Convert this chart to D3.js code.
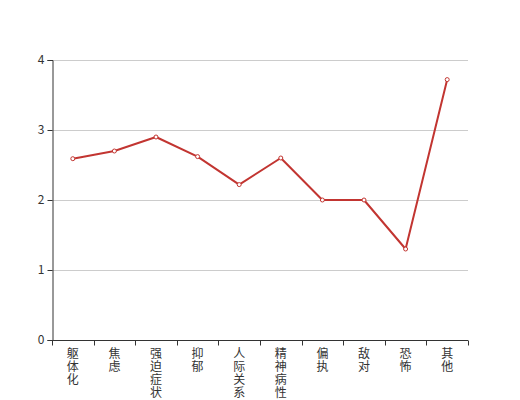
<!DOCTYPE html>
<html><head><meta charset="utf-8">
<script src="https://cdn.jsdelivr.net/npm/d3@7/dist/d3.min.js"></script>
<style>body{margin:0;background:#fff}svg{display:block}</style>
</head><body>
<svg id="c" width="520" height="400"></svg>
<script>
const categories = ["躯体化","焦虑","强迫症状","抑郁","人际关系敏感","精神病性","偏执","敌对","恐怖","其他"];
const values = [2.59, 2.70, 2.90, 2.62, 2.22, 2.60, 2.00, 2.00, 1.30, 3.72];
const yTicks = [0, 1, 2, 3, 4];

(function() {
const svg = d3.select("#c");
const mLeft = 52, mRight = 468, mTop = 60, mBottom = 340;
const font = "'Noto Sans CJK SC', sans-serif";

const x = d3.scaleBand().domain(categories).range([mLeft, mRight]);
const y = d3.scaleLinear().domain([0, 4]).range([mBottom, mTop]);

// grid
svg.append("g").selectAll("line").data(yTicks.filter(d => d > 0)).join("line")
  .attr("x1", mLeft).attr("x2", mRight)
  .attr("y1", d => y(d) + 0.5).attr("y2", d => y(d) + 0.5)
  .attr("stroke", "#ccc").attr("stroke-width", 1);

// y axis
const ya = svg.append("g").attr("transform", `translate(${mLeft + 0.5},0)`)
  .call(d3.axisLeft(y).tickValues(yTicks).tickSize(5).tickPadding(3).tickFormat(d3.format("d")));
ya.select(".domain").attr("stroke", "#333");
ya.selectAll(".tick line").attr("stroke", "#333");
ya.selectAll("text").attr("font-family", font).attr("font-size", 12).attr("fill", "#333");

// x axis
const xa = svg.append("g").attr("transform", `translate(0,${mBottom + 0.5})`);
xa.append("line").attr("x1", mLeft).attr("x2", mRight).attr("stroke", "#333");
const bounds = categories.map(c => x(c)).concat([mRight]);
xa.selectAll("line.tk").data(bounds).join("line").attr("class", "tk")
  .attr("x1", d => Math.round(d) + 0.5).attr("x2", d => Math.round(d) + 0.5)
  .attr("y1", 0).attr("y2", 5).attr("stroke", "#333");
const lbl = xa.selectAll("text").data(categories).join("text")
  .attr("font-family", font).attr("font-size", 12).attr("fill", "#333")
  .attr("text-anchor", "middle");
lbl.each(function(c) {
  const t = d3.select(this);
  Array.from(c).forEach((ch, i) => {
    t.append("tspan").attr("x", x(c) + x.bandwidth() / 2)
      .attr("y", 17 + i * 13.3).text(ch);
  });
});

// line
const line = d3.line().x((d, i) => x(categories[i]) + x.bandwidth() / 2).y(d => y(d));
svg.append("path").datum(values).attr("d", line)
  .attr("fill", "none").attr("stroke", "#c23531").attr("stroke-width", 2).attr("stroke-linejoin", "round");
svg.append("g").selectAll("circle").data(values).join("circle")
  .attr("cx", (d, i) => x(categories[i]) + x.bandwidth() / 2).attr("cy", d => y(d))
  .attr("r", 2).attr("fill", "#fff").attr("stroke", "#c23531").attr("stroke-width", 1);
})();
</script>
</body></html>
